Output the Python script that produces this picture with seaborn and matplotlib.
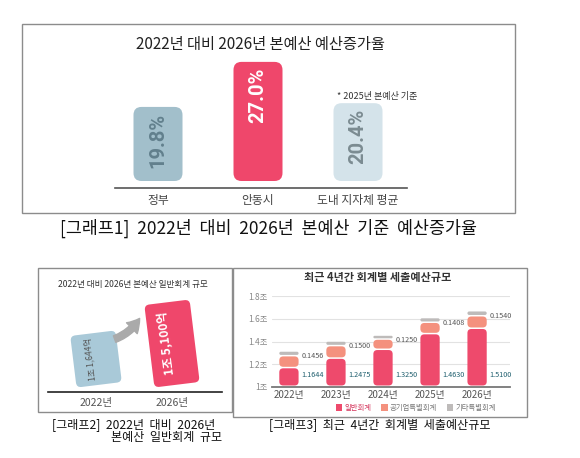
import seaborn as sns
import matplotlib.pyplot as plt
from matplotlib.patches import FancyBboxPatch, Rectangle, FancyArrowPatch, Patch
from matplotlib.transforms import Affine2D

# ------------------------------
# data
# ------------------------------
growth_groups = ["정부", "안동시", "도내 지자체 평균"]
growth_rates = [19.8, 27.0, 20.4]

general_years = ["2022년", "2026년"]
general_budget = [1.1644, 1.5100]          # 조 원
general_labels = ["1조 1,644억", "1조 5,100억"]

years = ["2022년", "2023년", "2024년", "2025년", "2026년"]
general_acc = [1.1644, 1.2475, 1.3250, 1.4630, 1.5100]
special_total = [0.1456, 0.1500, 0.1250, 0.1408, 0.1540]
other_special = [0.041, 0.040, 0.035, 0.041, 0.044]
series_names = ["일반회계", "공기업특별회계", "기타특별회계"]
y_ticks = [1.0, 1.2, 1.4, 1.6, 1.8]
y_tick_labels = ["1조", "1.2조", "1.4조", "1.6조", "1.8조"]

# ------------------------------
# style
# ------------------------------
sns.set_style("white")
plt.rcParams["font.family"] = ["Noto Sans CJK KR", "DejaVu Sans"]
NARROW = ["Liberation Sans Narrow", "Roboto", "DejaVu Sans"]

PINK = "#ef476b"
PINK3 = "#ee4a6c"
ORANGE = "#f4917e"
GRAY = "#bebbba"
BOX = "#8c8c8c"

W, H = 580, 458
fig = plt.figure(figsize=(W / 100, H / 100), dpi=100)


def px_axes(x0, y0, x1, y1):
    ax = fig.add_axes([x0 / W, 1 - y1 / H, (x1 - x0) / W, (y1 - y0) / H])
    ax.set_facecolor("none")
    return ax


def px_box(x0, y0, x1, y1):
    fig.add_artist(Rectangle((x0 / W, 1 - y1 / H), (x1 - x0) / W, (y1 - y0) / H,
                             transform=fig.transFigure, fill=False, ec=BOX, lw=1))


def px_text(x, y, s, **kw):
    fig.text(x / W, 1 - y / H, s, ha=kw.pop("ha", "center"), va="center", **kw)


def take_bars(ax):
    # keep seaborn's bar geometry, then drop the plain rectangles
    bars = [(p.get_x(), p.get_x() + p.get_width()) for p in ax.patches]
    for p in list(ax.patches):
        p.remove()
    return bars


def round_bar(ax, x0, x1, y0, y1, color, r, gap=0, angle=0):
    (a, b), (c, d) = ax.transData.transform([(x0, y0), (x1, y1)])
    b += gap
    r = min(r, (c - a) / 2, (d - b) / 2)
    tr = Affine2D().rotate_deg_around((a + c) / 2, (b + d) / 2, angle)
    ax.add_artist(FancyBboxPatch((a, b), c - a, d - b,
                                 boxstyle=f"round,pad=0,rounding_size={r}",
                                 fc=color, ec="none", transform=tr,
                                 clip_on=False, zorder=3))


def clean(ax, color, lw):
    for s in ["top", "right", "left"]:
        ax.spines[s].set_visible(False)
    ax.spines["bottom"].set_color(color)
    ax.spines["bottom"].set_linewidth(lw)
    ax.set_xlabel("")
    ax.set_ylabel("")
    ax.tick_params(length=0)


# ------------------------------
# graph 1: growth rates
# ------------------------------
px_box(22, 24, 515, 213)
px_text(260, 44, "2022년 대비 2026년 본예산 예산증가율", fontsize=11, color="#222")

ax1 = px_axes(115, 55, 407, 188)
sns.barplot(x=growth_groups, y=growth_rates, ax=ax1, width=0.49)
bars1 = take_bars(ax1)
ax1.set_xlim(-0.43, 2.49)
ax1.set_ylim(6.84, 28.1)
clean(ax1, "#555555", 1.2)
ax1.set_yticks([])
ax1.tick_params(axis="x", pad=4, labelsize=8.5, labelcolor="#444")

c1 = ["#a2bfcb", PINK, "#d4e3ea"]
t1 = ["#62808d", "white", "#7b8b91"]
for i, ((x0, x1), v) in enumerate(zip(bars1, growth_rates)):
    round_bar(ax1, x0, x1, 6.84, v, c1[i], r=8, gap=7)
    ax1.annotate(f"{v:.1f}%", (i, v), xytext=(0, -6), textcoords="offset pixels",
                 rotation=90, ha="center", va="top", fontsize=14.5,
                 fontweight="bold", color=t1[i], family=NARROW, zorder=4)
ax1.annotate("* 2025년 본예산 기준", (2, growth_rates[2]), xytext=(19, 7),
             textcoords="offset pixels", ha="center", va="center",
             fontsize=6.5, color="#333")

px_text(269, 228, "[그래프1]  2022년  대비  2026년  본예산  기준  예산증가율",
        fontsize=12.5, color="#111")

# ------------------------------
# graph 2: general account size
# ------------------------------
px_box(38, 268, 232, 412)
px_text(133, 285, "2022년 대비 2026년 본예산 일반회계 규모", fontsize=6.2, color="#333")

ax2 = px_axes(48, 295, 222, 392)
sns.barplot(x=general_years, y=general_budget, ax=ax2, width=0.6)
bars2 = take_bars(ax2)
ax2.set_xlim(-0.632, 1.658)
ax2.set_ylim(0.5066, 1.588)
clean(ax2, "#222222", 1.2)
ax2.set_yticks([])
ax2.tick_params(axis="x", pad=4, labelsize=7.5, labelcolor="#555")

c2 = ["#a9c9d8", PINK]
for i, ((x0, x1), v) in enumerate(zip(bars2, general_budget)):
    round_bar(ax2, x0, x1, 0.5066, v, c2[i], r=5, gap=7, angle=7)
    ax2.annotate(general_labels[i], (i, (0.585 + v) / 2), xytext=(-6, 0),
                 textcoords="offset pixels", rotation=97, ha="center", va="center",
                 fontsize=[6, 8.6][i], fontweight=["normal", "bold"][i],
                 color=["#555", "white"][i], zorder=4)

fig.add_artist(FancyArrowPatch((112 / W, 1 - 340 / H), (141 / W, 1 - 316 / H),
                               transform=fig.transFigure,
                               arrowstyle="simple,head_width=1.1,head_length=0.9,tail_width=0.5",
                               mutation_scale=10, color="#aaaaaa",
                               connectionstyle="arc3,rad=0.2"))

px_text(134, 425, "[그래프2]  2022년  대비  2026년", fontsize=8.7, color="#111")
px_text(167, 438, "본예산  일반회계  규모", fontsize=8.7, color="#111")

# ------------------------------
# graph 3: stacked budget by account
# ------------------------------
px_box(233, 268, 527, 417)
px_text(378, 278, "최근 4년간 회계별 세출예산규모", fontsize=8, fontweight="bold", color="#333")

mid = [g + s - o for g, s, o in zip(general_acc, special_total, other_special)]
top = [g + s for g, s in zip(general_acc, special_total)]

ax3 = px_axes(272, 296, 510, 387)
segments = []
for color, lo, hi in [(PINK3, [1.0] * len(years), general_acc),
                      (ORANGE, general_acc, mid),
                      (GRAY, mid, top)]:
    sns.barplot(x=years, y=hi, ax=ax3, width=0.41)
    for (x0, x1), a, b in zip(take_bars(ax3), lo, hi):
        segments.append((x0, x1, a, b, color))

ax3.set_xlim(-0.36, 4.70)
ax3.set_ylim(1.0, 1.8)
clean(ax3, "#777777", 1.3)
ax3.set_yticks(y_ticks, y_tick_labels)
ax3.yaxis.grid(True, color="#e2e2e2", lw=0.8)
ax3.set_axisbelow(True)
ax3.tick_params(axis="y", pad=3, labelsize=6, labelcolor="#888")
ax3.tick_params(axis="x", pad=2, labelsize=7, labelcolor="#555")

for x0, x1, a, b, color in segments:
    round_bar(ax3, x0, x1, a, b, color, r=4, gap=1.5)

for i, (g, m, s) in enumerate(zip(general_acc, mid, special_total)):
    right = i + 0.205
    ax3.annotate(f"{g:.4f}", (right, 1.0), xytext=(3, 12), textcoords="offset pixels",
                 ha="left", va="center", fontsize=5.2, color="#1f5f6e")
    ax3.annotate(f"{s:.4f}", (right, m), xytext=(3, 0), textcoords="offset pixels",
                 ha="left", va="center", fontsize=5.2, color="#555")

leg = fig.legend(handles=[Patch(fc=c, ec="none", label=n)
                          for c, n in zip([PINK3, ORANGE, GRAY], series_names)],
                 loc="center", bbox_to_anchor=(416 / W, 1 - 408 / H), ncol=3,
                 frameon=False, fontsize=5.3, handlelength=0.9, handleheight=0.9,
                 columnspacing=1.3, handletextpad=0.3)
for t, c in zip(leg.get_texts(), ["#d4335a", "#777", "#777"]):
    t.set_color(c)

px_text(380, 425, "[그래프3]  최근  4년간  회계별  세출예산규모", fontsize=8.7, color="#111")

fig.savefig("out.png", dpi=100)
